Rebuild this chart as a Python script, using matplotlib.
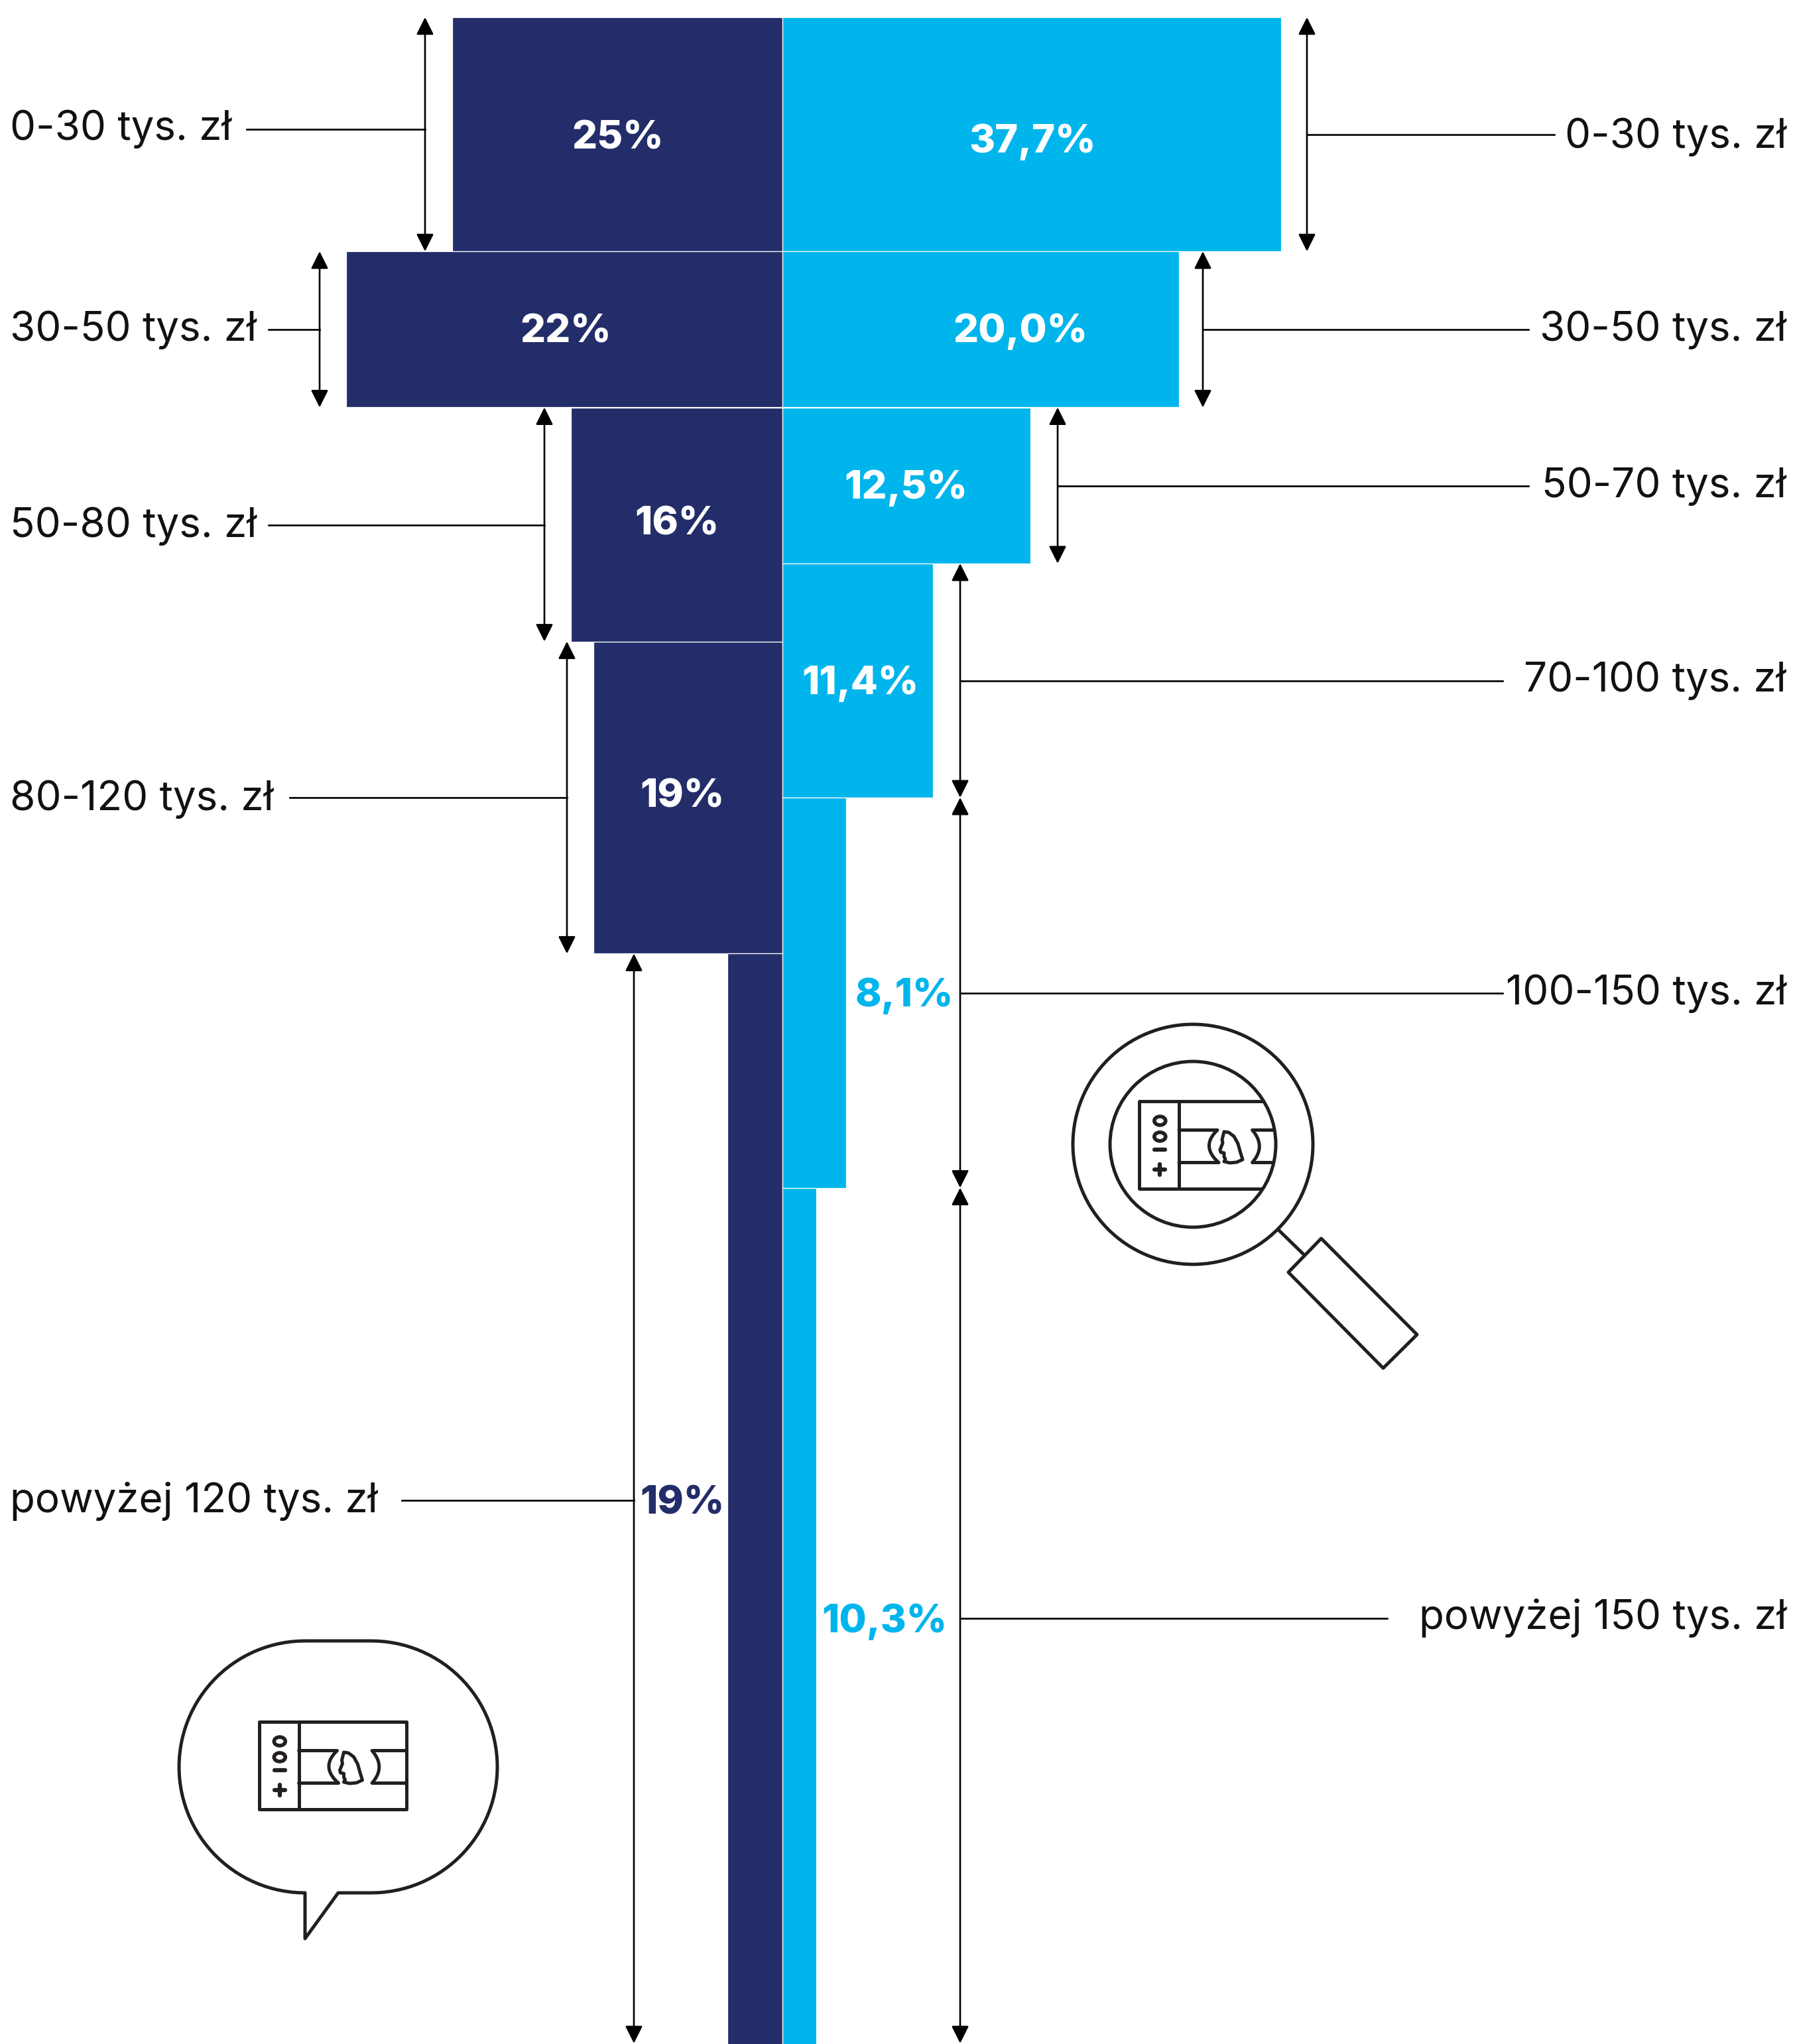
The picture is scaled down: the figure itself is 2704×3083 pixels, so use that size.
import numpy as np
import matplotlib
matplotlib.use("Agg")
import matplotlib.pyplot as plt
from matplotlib.patches import FancyArrowPatch, Circle, Ellipse, Polygon

# ---------- data ----------
left_labels = ["0-30 tys. zł", "30-50 tys. zł", "50-80 tys. zł", "80-120 tys. zł", "powyżej 120 tys. zł"]
left_pct_text = ["25%", "22%", "16%", "19%", "19%"]
left_edges = [0, 30, 50, 80, 120, 260]          # tys. zł
left_density = [0.833, 1.100, 0.533, 0.477, 0.139]   # % per tys. zł

right_labels = ["0-30 tys. zł", "30-50 tys. zł", "50-70 tys. zł", "70-100 tys. zł", "100-150 tys. zł", "powyżej 150 tys. zł"]
right_pct_text = ["37,7%", "20,0%", "12,5%", "11,4%", "8,1%", "10,3%"]
right_edges = [0, 30, 50, 70, 100, 150, 260]
right_density = [1.257, 1.000, 0.625, 0.380, 0.161, 0.085]

NAVY = "#232D69"
CYAN = "#00B5EC"
INK = "#231F20"
W, H = 2704, 3083
X0, XS = 1180.0, 598.0     # px of zero and px per density unit
Y0, YS = 26.0, 11.77       # px of 0 tys. zł and px per tys. zł
def Yp(k):
    return Y0 + YS * k

FONT = "Inter"
FS = 44.6
FSB = 43

fig = plt.figure(figsize=(W / 100, H / 100), dpi=100, facecolor="white")
ax = fig.add_axes([0, 0, 1, 1])
ax.set_xlim(-X0 / XS, (W - X0) / XS)
ax.set_ylim((H - Y0) / YS, -Y0 / YS)
ax.axis("off")

for i, d in enumerate(left_density):
    ax.barh(left_edges[i], -d, height=left_edges[i + 1] - left_edges[i], align="edge",
            color=NAVY, edgecolor="white", linewidth=0.9, zorder=2)
for i, d in enumerate(right_density):
    ax.barh(right_edges[i], d, height=right_edges[i + 1] - right_edges[i], align="edge",
            color=CYAN, edgecolor="white", linewidth=0.9, zorder=2)

# pixel overlay
px = fig.add_axes([0, 0, 1, 1], facecolor="none")
px.set_xlim(0, W)
px.set_ylim(H, 0)
px.axis("off")

def dbl_arrow(x, y1, y2):
    px.add_patch(FancyArrowPatch((x, y1), (x, y2), arrowstyle="<|-|>,head_length=16,head_width=8.0",
                                 mutation_scale=1, shrinkA=0, shrinkB=0, lw=1.9,
                                 color="black", zorder=4, clip_on=False))

# left annotations
L_arrow_x = [641, 482, 821, 855, 956]
L_lead_y = [195, 497, 792, 1203, 2263]
L_lead_x = [372, 405, 405, 437, 606]
L_text_y = [195, 498, 794, 1206, 2265]
for i in range(5):
    dbl_arrow(L_arrow_x[i], Yp(left_edges[i]), min(Yp(left_edges[i + 1]), H - 1))
    px.plot([L_lead_x[i], L_arrow_x[i]], [L_lead_y[i]] * 2, color="black", lw=1.9, zorder=4)
    px.text(15, L_text_y[i], left_labels[i], fontsize=FS, family=FONT, weight="normal", color="#111111",
            ha="left", va="center")

# right annotations
R_arrow_x = [1971, 1814, 1595, 1448, 1448, 1448]
R_lead_y = [203, 497, 733, 1027, 1498, 2441]
R_lead_x = [2344, 2305, 2305, 2266, 2266, 2092]
R_text_y = [207, 498, 734, 1027, 1499, 2440]
for i in range(6):
    dbl_arrow(R_arrow_x[i], Yp(right_edges[i]), min(Yp(right_edges[i + 1]), H - 1))
    px.plot([R_arrow_x[i], R_lead_x[i]], [R_lead_y[i]] * 2, color="black", lw=1.9, zorder=4)
    px.text(2694, R_text_y[i], right_labels[i], fontsize=FS, family=FONT, weight="normal", color="#111111",
            ha="right", va="center")

# percentage labels
L_pct_pos = [(932, 209), (853, 501), (1021, 791), (1029, 1202), (1029, 2268)]
L_pct_col = ["white", "white", "white", "white", NAVY]
for (x, y), t, c in zip(L_pct_pos, left_pct_text, L_pct_col):
    px.text(x, y, t, fontsize=FSB, family=FONT, weight="heavy", color=c, ha="center", va="center", zorder=5)
R_pct_pos = [(1557, 214), (1539, 500), (1366, 736), (1297, 1031), (1364, 1502), (1334, 2446)]
R_pct_col = ["white", "white", "white", "white", CYAN, CYAN]
for (x, y), t, c in zip(R_pct_pos, right_pct_text, R_pct_col):
    px.text(x, y, t, fontsize=FSB, family=FONT, weight="heavy", color=c, ha="center", va="center", zorder=5)

# ---------- icons ----------
LW = 3.6
def banknote(ox, oy, clip=None):
    arts = []
    def line(pts, closed=False, lw=LW):
        pts = np.array(pts, float) + [ox, oy]
        p = Polygon(pts, closed=closed, fill=False, ec=INK, lw=lw, joinstyle="round", capstyle="round", zorder=6)
        px.add_patch(p); arts.append(p)
    def curve(p0, c, p1):
        t = np.linspace(0, 1, 30)[:, None]
        p0, c, p1 = map(np.array, (p0, c, p1))
        return (1 - t) ** 2 * p0 + 2 * t * (1 - t) * c + t ** 2 * p1
    line([(0, 0), (222, 0), (222, 132), (0, 132)], closed=True)
    line([(60, 0), (60, 132)])
    line([(60, 43.5), (118, 43.5)] + curve((118, 43.5), (92, 68), (120, 92.5)).tolist() + [(60, 92.5)])
    line([(222, 43.5), (170.5, 43.5)] + curve((170.5, 43.5), (192, 68), (170.5, 92.5)).tolist() + [(222, 92.5)])
    head = [(128, 46), (125, 58), (126, 63), (122, 73), (123, 77), (128, 78), (128, 84), (130, 87), (128, 91),
            (137, 93), (147, 92), (156, 88), (152, 75), (149, 64), (143, 53), (135, 47)]
    line(head, closed=True)
    for v in (29.5, 53.4):
        e = Ellipse((ox + 31.3, oy + v), 17, 13, fill=False, ec=INK, lw=4, zorder=6)
        px.add_patch(e); arts.append(e)
    line([(23, 72.6), (39, 72.6)], lw=4.5)
    line([(23, 102.5), (39, 102.5)], lw=4.5)
    line([(31, 94.5), (31, 110.5)], lw=4.5)
    if clip is not None:
        for a in arts:
            a.set_clip_path(clip)

# magnifier
cx, cy = 1799, 1726
px.add_patch(Circle((cx, cy), 181, fill=False, ec=INK, lw=LW, zorder=6))
inner = Circle((cx, cy), 125, fill=False, ec=INK, lw=LW, zorder=6)
px.add_patch(inner)
banknote(1718, 1661, clip=inner)
px.plot([1929, 1967], [1856, 1893], color=INK, lw=LW, zorder=6)
px.add_patch(Polygon([(1992.5, 1868), (2137, 2013), (2086, 2063.6), (1943, 1919)], closed=True, fill=False,
                     ec=INK, lw=LW, joinstyle="round", zorder=6))

# speech bubble
r = 190
a = np.linspace(np.pi / 2, -np.pi / 2, 60)
pts = [(460, 2475), (560, 2475)]
pts += [(560 + r * np.cos(t), 2665 - r * np.sin(t)) for t in a]
pts += [(510, 2855), (460, 2924), (460, 2855)]
a2 = np.linspace(-np.pi / 2, -3 * np.pi / 2, 60)
pts += [(460 + r * np.cos(t), 2665 - r * np.sin(t)) for t in a2]
px.add_patch(Polygon(pts, closed=True, fill=False, ec=INK, lw=LW, joinstyle="round", zorder=6))
banknote(390.5, 2597)

fig.savefig("out.png", dpi=100)
